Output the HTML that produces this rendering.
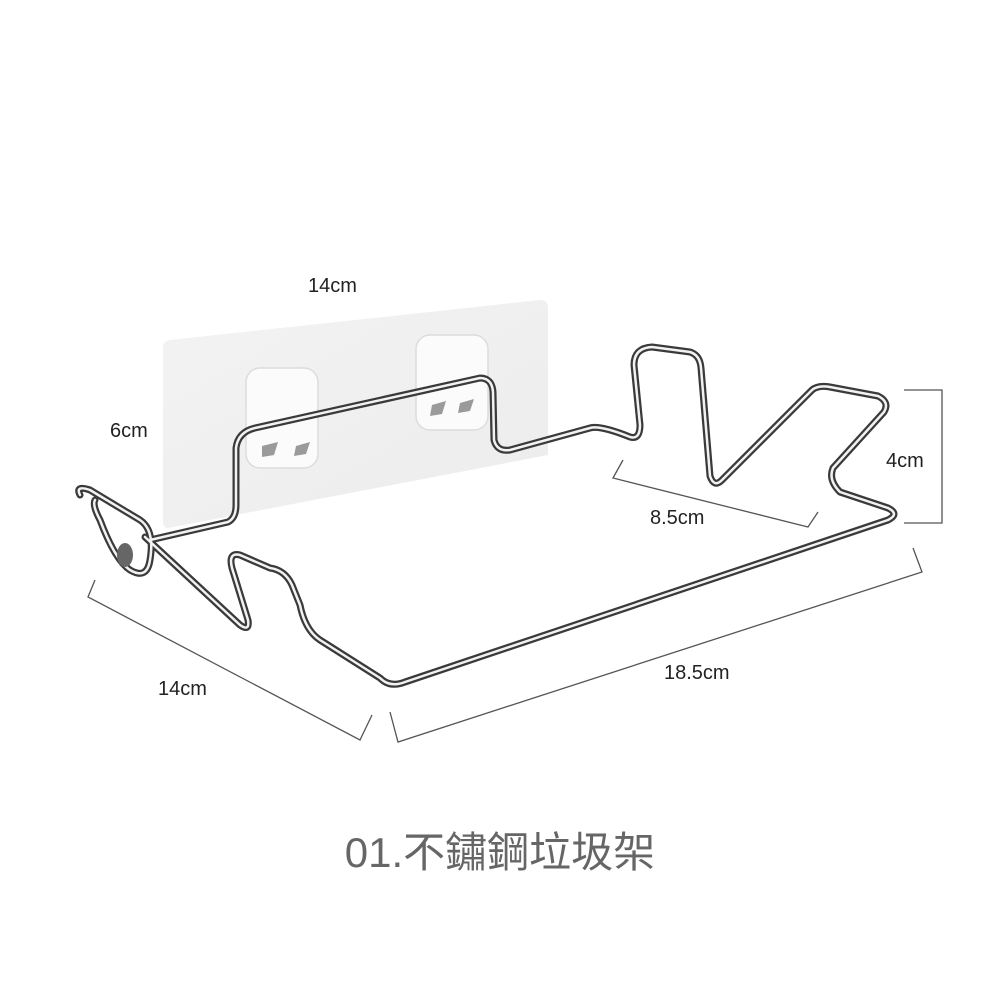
<!DOCTYPE html>
<html><head><meta charset="utf-8"><style>
html,body{margin:0;padding:0;background:#fff;}
svg{display:block}
</style></head><body>
<svg width="1000" height="1000" viewBox="0 0 1000 1000" xmlns="http://www.w3.org/2000/svg">
<defs>
<linearGradient id="pl" x1="0" y1="0" x2="1" y2="1">
<stop offset="0" stop-color="#f3f3f3"/><stop offset="1" stop-color="#ececec"/>
</linearGradient>
</defs>
<rect width="1000" height="1000" fill="#fff"/>
<path d="M170 340 L540 300 Q548 300 548 308 L548 455 L168 528 Q163 528 163 520 L163 347 Q163 341 170 340Z" fill="url(#pl)"/>
<rect x="246" y="368" width="72" height="100" rx="14" fill="#fbfbfb" stroke="#dcdcdc" stroke-width="1.5"/>
<rect x="416" y="335" width="72" height="95" rx="14" fill="#fbfbfb" stroke="#dcdcdc" stroke-width="1.5"/>
<g fill="#9a9a9a">
<polygon points="262,446 278,442 274,455 262,457"/><polygon points="296,446 310,442 306,454 294,456"/>
<polygon points="432,405 446,401 442,414 430,416"/><polygon points="460,403 474,399 470,411 458,413"/>
</g>
<g stroke-linecap="round" stroke-linejoin="round" fill="none">
<path stroke="#3a3a3a" stroke-width="7" d="M150 540 L228 522 Q236 518 236 505 L236 448 Q238 432 255 428 L480 378 Q492 378 493 392 L494 440 Q497 452 510 450 L590 428 Q600 425 630 437 Q640 440 640 425 L634 365 Q634 348 652 347 L690 352 Q700 355 701 368 L710 476 Q714 488 722 480 L812 390 Q818 385 830 387 L878 396 Q890 402 884 412 L833 468 Q828 480 840 492 L888 508 Q900 514 888 520 L405 682 Q390 688 380 678 L320 640 Q305 630 300 605 L292 585 Q285 570 270 568 L240 555 Q228 552 232 568 L248 620 Q250 632 240 625 L145 537"/>
<path stroke="#3a3a3a" stroke-width="7" d="M80 495 Q75 485 90 490 L140 520 Q155 530 150 560 Q147 580 130 570 Q115 560 100 520 Q92 505 95 500"/>
<path stroke="#f2f2f2" stroke-width="2.5" d="M150 540 L228 522 Q236 518 236 505 L236 448 Q238 432 255 428 L480 378 Q492 378 493 392 L494 440 Q497 452 510 450 L590 428 Q600 425 630 437 Q640 440 640 425 L634 365 Q634 348 652 347 L690 352 Q700 355 701 368 L710 476 Q714 488 722 480 L812 390 Q818 385 830 387 L878 396 Q890 402 884 412 L833 468 Q828 480 840 492 L888 508 Q900 514 888 520 L405 682 Q390 688 380 678 L320 640 Q305 630 300 605 L292 585 Q285 570 270 568 L240 555 Q228 552 232 568 L248 620 Q250 632 240 625 L145 537"/>
<path stroke="#f2f2f2" stroke-width="2.5" d="M80 495 Q75 485 90 490 L140 520 Q155 530 150 560 Q147 580 130 570 Q115 560 100 520 Q92 505 95 500"/>
</g>
<ellipse cx="125" cy="555" rx="8" ry="12" fill="#666"/>
<g stroke="#555" stroke-width="1.3" fill="none">
<path d="M904 390 L942 390 L942 523 L904 523"/>
<path d="M623 460 L613 478 L808 527 L818 512"/>
<path d="M95 580 L88 597 L360 740 L372 715"/>
<path d="M390 712 L398 742 L922 572 L913 548"/>
</g>
<g font-family="Liberation Sans, sans-serif" font-size="20" fill="#222">
<text x="308" y="292">14cm</text>
<text x="110" y="437">6cm</text>
<text x="886" y="467">4cm</text>
<text x="650" y="524">8.5cm</text>
<text x="158" y="695">14cm</text>
<text x="664" y="679">18.5cm</text>
</g>
<text x="500" y="867" text-anchor="middle" font-family="Liberation Sans, 'Noto Sans CJK TC', sans-serif" font-size="42" fill="#666">01.不鏽鋼垃圾架</text>
</svg>
</body></html>
